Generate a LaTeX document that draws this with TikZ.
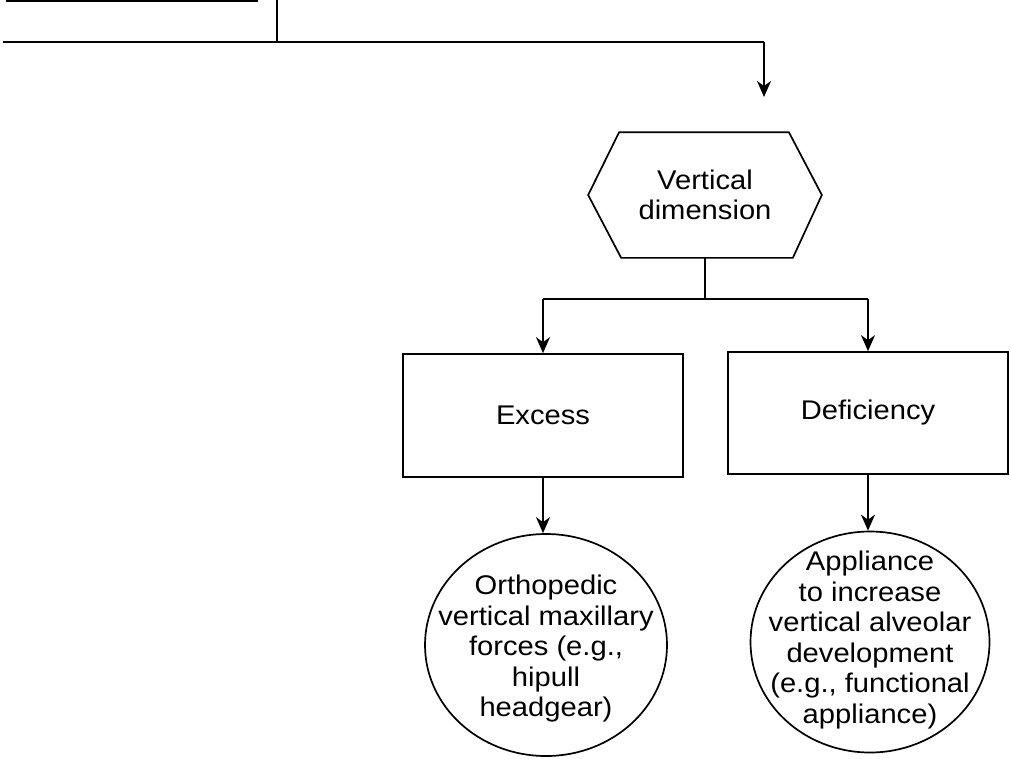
\documentclass[tikz,border=0pt]{standalone}
\usepackage{fontspec}
\setmainfont{Liberation Sans}[FakeStretch=1.08]
\usetikzlibrary{calc,shapes.geometric,arrows.meta}

\begin{document}
\begin{tikzpicture}[x=1pt,y=-1pt, line width=1.7pt,
  txt/.style={font=\fontsize{27}{30.5}\selectfont, align=center, inner sep=0pt},
  box/.style={draw, txt, minimum width=280pt, minimum height=123pt},
  leaf/.style={draw, ellipse, inner sep=0pt, minimum width=242pt, minimum height=222pt},
  arr/.style={-{Stealth[length=16pt,width=14pt,inset=5pt]}}]
\useasboundingbox (0,0) rectangle (1011,758);

% feed from the level above
\coordinate (tl) at (6,1);
\coordinate (tr) at (258,1);
\coordinate (stem) at (277,0);
\coordinate (rail) at (277,42);
\coordinate (railL) at (3,42);
\coordinate (drop) at (764,42);
\coordinate (tip) at (764,97);
\draw (tl) -- (tr);
\draw (stem) -- (rail);
\draw (railL) -- (drop);
\draw[arr] (drop) -- (tip);

% hexagon
\node[txt, minimum width=232pt, minimum height=124pt] (vd) at (705,195) {Vertical\\dimension};
\draw (vd.west) -- ($(vd.north west)+(31,0)$) -- ($(vd.north east)+(-33,0)$) -- (vd.east)
      -- ($(vd.south east)+(-29,0)$) -- ($(vd.south west)+(33,0)$) -- cycle;

% boxes
\node[box] (ex) at (543,415.5) {Excess};
\node[box, minimum height=122pt] (df) at (868,413) {Deficiency};

% circles with their texts
\node[leaf] (c1) at (546,645) {};
\node[txt] (c1t) at ($(c1.center)+(0,4)$) {Orthopedic\\vertical maxillary\\forces (e.g.,\\hipull\\headgear)};
\node[leaf, minimum width=239pt, minimum height=221pt] (c2) at (870,642) {};
\node[txt] (c2t) at ($(c2.center)+(0,-2)$) {Appliance\\to increase\\vertical alveolar\\development\\(e.g., functional\\appliance)};

% branching
\coordinate (split) at ($(vd.south)+(0,41)$);
\draw (vd.south) -- (split);
\draw (split -| ex.north) -- (split -| df.north);
\draw[arr] (split -| ex.north) -- (ex.north);
\draw[arr] (split -| df.north) -- (df.north);

\draw[arr] (ex.south) -- (ex.south |- c1.north);
\draw[arr] (df.south) -- (df.south |- c2.north);
\end{tikzpicture}
\end{document}
